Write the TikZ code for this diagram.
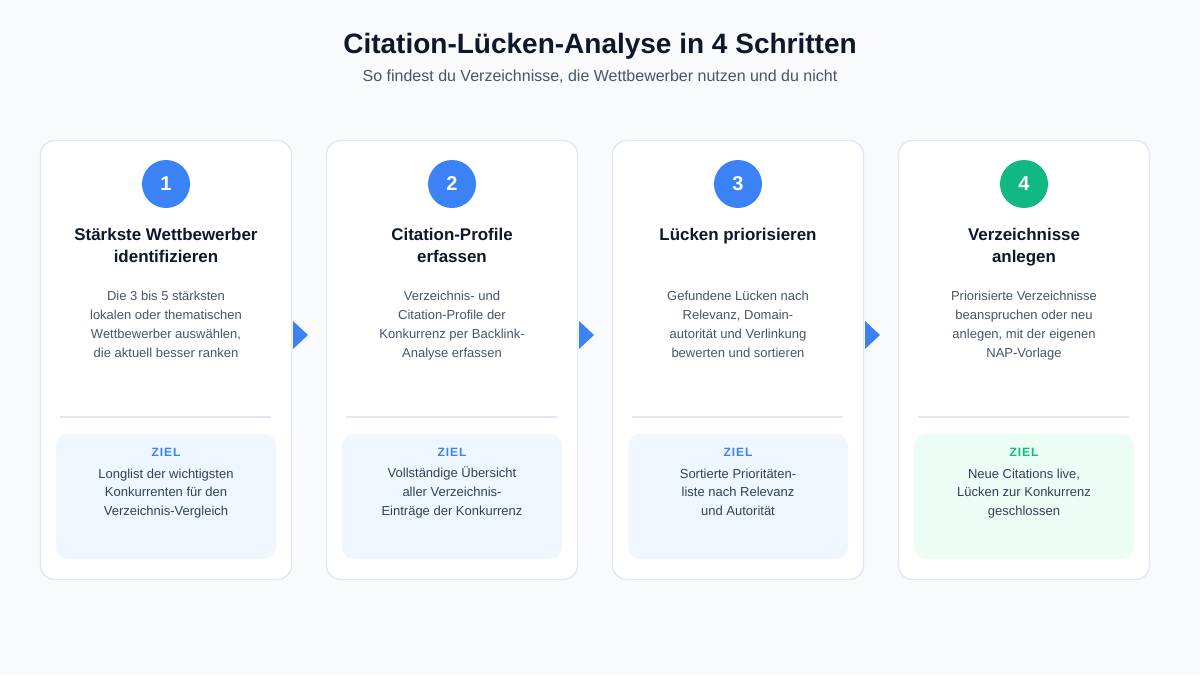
\documentclass[tikz,border=0pt]{standalone}
\usepackage{fontspec}
\setmainfont{Liberation Sans}
\newfontfamily\zielfont[LetterSpace=8]{Liberation Sans}

\definecolor{pagebg}{HTML}{F8FAFC}
\definecolor{cardline}{HTML}{E2E8F0}
\definecolor{darktext}{HTML}{0F172A}
\definecolor{greytext}{HTML}{475569}
\definecolor{goaltext}{HTML}{334155}
\definecolor{blueacc}{HTML}{3B82F6}
\definecolor{greenacc}{HTML}{10B981}
\definecolor{bluesoft}{HTML}{EFF6FF}
\definecolor{greensoft}{HTML}{ECFDF5}

\tikzset{every picture/.style={line width=0.75pt}}
\tikzset{
  cardbox/.style={draw=cardline, fill=white, line width=1.1pt, rounded corners=10.5pt},
  goalbox/.style={rounded corners=9pt},
  sepline/.style={draw=cardline, line width=1.5pt},
  numcircle/.style={circle, minimum size=36pt, inner sep=0pt, text=white, font=\fontsize{15}{18}\selectfont\bfseries},
  cardtitle/.style={anchor=north, align=center, inner sep=0pt, text=darktext, font=\fontsize{12.7}{16.5}\selectfont\bfseries},
  carddesc/.style={anchor=north, align=center, inner sep=0pt, text=greytext, font=\fontsize{9.75}{14.25}\selectfont},
  goallabel/.style={anchor=base, inner sep=0pt, font=\zielfont\fontsize{9}{11}\selectfont\bfseries},
  goaldesc/.style={anchor=north, align=center, inner sep=0pt, text=goaltext, font=\fontsize{9.75}{14}\selectfont}
}

\begin{document}
\begin{tikzpicture}[x=0.75pt,y=0.75pt,yscale=-1,xscale=1]
%set diagram to the full page, 1200 x 675
\fill[pagebg] (0,0) rectangle (1200,675);

% Text Node
\node[anchor=base, inner sep=0pt, text=darktext, font=\fontsize{21}{25}\selectfont\bfseries] (title) at (600,53) {Citation-Lücken-Analyse in 4 Schritten};
% Text Node
\node[anchor=base, inner sep=0pt, text=greytext, font=\fontsize{12}{14}\selectfont] (subtitle) at (600,81.5) {So findest du Verzeichnisse, die Wettbewerber nutzen und du nicht};

%Shape: Card 1
\draw[cardbox] (40.5,140.5) rectangle (291.5,579.5);
\node[numcircle, fill=blueacc] (num1) at (166,184) {1};
\node[cardtitle] (head1) at (166,227.5) {Stärkste Wettbewerber\\identifizieren};
\node[carddesc] (desc1) at (166,291) {Die 3 bis 5 stärksten\\lokalen oder thematischen\\Wettbewerber auswählen,\\die aktuell besser ranken};
\draw[sepline] (60,417) -- (271,417);
\fill[goalbox, bluesoft] (56,434) rectangle (276,559);
\node[goallabel, text=blueacc] (ziel1) at (166,456) {ZIEL};
\node[goaldesc] (goal1) at (166,468.3) {Longlist der wichtigsten\\Konkurrenten für den\\Verzeichnis-Vergleich};

%Shape: Triangle
\fill[blueacc] (293,321) -- (308,335) -- (293,349) -- cycle;

%Shape: Card 2
\draw[cardbox] (326.5,140.5) rectangle (577.5,579.5);
\node[numcircle, fill=blueacc] (num2) at (452,184) {2};
\node[cardtitle] (head2) at (452,227.5) {Citation-Profile\\erfassen};
\node[carddesc] (desc2) at (452,291) {Verzeichnis- und\\Citation-Profile der\\Konkurrenz per Backlink-\\Analyse erfassen};
\draw[sepline] (346,417) -- (557,417);
\fill[goalbox, bluesoft] (342,434) rectangle (562,559);
\node[goallabel, text=blueacc] (ziel2) at (452,456) {ZIEL};
\node[goaldesc] (goal2) at (452,466.4) {Vollständige Übersicht\\aller Verzeichnis-\\Einträge der Konkurrenz};

%Shape: Triangle
\fill[blueacc] (579,321) -- (594,335) -- (579,349) -- cycle;

%Shape: Card 3
\draw[cardbox] (612.5,140.5) rectangle (863.5,579.5);
\node[numcircle, fill=blueacc] (num3) at (738,184) {3};
\node[cardtitle] (head3) at (738,227.5) {Lücken priorisieren};
\node[carddesc] (desc3) at (738,291) {Gefundene Lücken nach\\Relevanz, Domain-\\autorität und Verlinkung\\bewerten und sortieren};
\draw[sepline] (632,417) -- (843,417);
\fill[goalbox, bluesoft] (628,434) rectangle (848,559);
\node[goallabel, text=blueacc] (ziel3) at (738,456) {ZIEL};
\node[goaldesc] (goal3) at (738,468.3) {Sortierte Prioritäten-\\liste nach Relevanz\\und Autorität};

%Shape: Triangle
\fill[blueacc] (865,321) -- (880,335) -- (865,349) -- cycle;

%Shape: Card 4
\draw[cardbox] (898.5,140.5) rectangle (1149.5,579.5);
\node[numcircle, fill=greenacc] (num4) at (1024,184) {4};
\node[cardtitle] (head4) at (1024,227.5) {Verzeichnisse\\anlegen};
\node[carddesc] (desc4) at (1024,291) {Priorisierte Verzeichnisse\\beanspruchen oder neu\\anlegen, mit der eigenen\\NAP-Vorlage};
\draw[sepline] (918,417) -- (1129,417);
\fill[goalbox, greensoft] (914,434) rectangle (1134,559);
\node[goallabel, text=greenacc] (ziel4) at (1024,456) {ZIEL};
\node[goaldesc] (goal4) at (1024,468.3) {Neue Citations live,\\Lücken zur Konkurrenz\\geschlossen};

\end{tikzpicture}
\end{document}
